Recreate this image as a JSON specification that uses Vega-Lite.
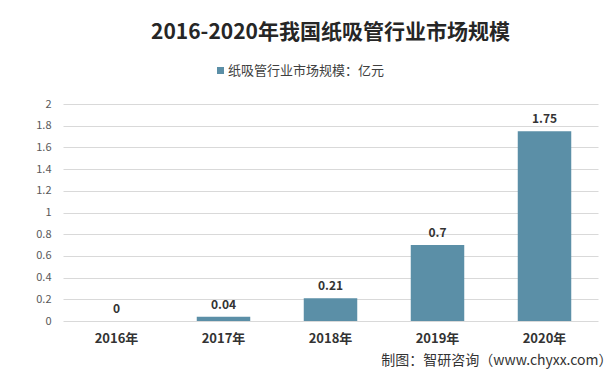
{
  "$schema": "https://vega.github.io/schema/vega-lite/v6.json",
  "width": 535,
  "height": 217,
  "autosize": {"type": "none"},
  "padding": {"left": 63, "top": 104, "right": 14, "bottom": 52},
  "background": "#ffffff",
  "config": {
    "font": "Noto Sans CJK SC",
    "view": {"stroke": null}
  },
  "title": {
    "text": "2016-2020年我国纸吸管行业市场规模",
    "fontSize": 21,
    "fontWeight": "bold",
    "color": "#262626",
    "anchor": "middle",
    "baseline": "middle",
    "offset": 10
  },
  "data": {
    "values": [
      {"year": "2016年", "value": 0, "series": "纸吸管行业市场规模：亿元"},
      {"year": "2017年", "value": 0.04, "series": "纸吸管行业市场规模：亿元"},
      {"year": "2018年", "value": 0.21, "series": "纸吸管行业市场规模：亿元"},
      {"year": "2019年", "value": 0.7, "series": "纸吸管行业市场规模：亿元"},
      {"year": "2020年", "value": 1.75, "series": "纸吸管行业市场规模：亿元"}
    ]
  },
  "encoding": {
    "x": {
      "field": "year",
      "type": "nominal",
      "sort": null,
      "scale": {"paddingInner": 0.5, "paddingOuter": 0.25},
      "axis": {
        "title": "制图：智研咨询（www.chyxx.com）",
        "titleFontSize": 14,
        "titleFontWeight": "normal",
        "titleColor": "#333333",
        "titleAlign": "right",
        "titleAnchor": "end",
        "titleX": 549,
        "titleY": 39,
        "titleBaseline": "middle",
        "labelAngle": 0,
        "labelFontSize": 13,
        "labelFontWeight": "bold",
        "labelColor": "#333333",
        "labelPadding": 11,
        "domain": false,
        "ticks": false
      }
    },
    "y": {
      "field": "value",
      "type": "quantitative",
      "scale": {"domain": [0, 2], "nice": false},
      "axis": {
        "title": null,
        "values": [0, 0.2, 0.4, 0.6, 0.8, 1, 1.2, 1.4, 1.6, 1.8, 2],
        "format": "~g",
        "labelFontSize": 11,
        "labelColor": "#595959",
        "labelPadding": 12,
        "domain": false,
        "ticks": false,
        "gridColor": "#d9d9d9",
        "gridWidth": 1
      }
    }
  },
  "layer": [
    {
      "mark": {"type": "bar", "color": "#5b8fa7"},
      "encoding": {
        "color": {
          "field": "series",
          "type": "nominal",
          "scale": {"range": ["#5b8fa7"]},
          "legend": {
            "title": null,
            "orient": "none",
            "legendX": 151,
            "legendY": -40,
            "symbolType": "square",
            "symbolSize": 49,
            "symbolStrokeWidth": 0,
            "labelFontSize": 13,
            "labelColor": "#404040",
            "labelOffset": 1
          }
        }
      }
    },
    {
      "mark": {"type": "text", "baseline": "bottom", "dy": -5, "fontSize": 12, "fontWeight": "bold", "color": "#333333"},
      "encoding": {
        "text": {"field": "value", "type": "quantitative"}
      }
    }
  ]
}
